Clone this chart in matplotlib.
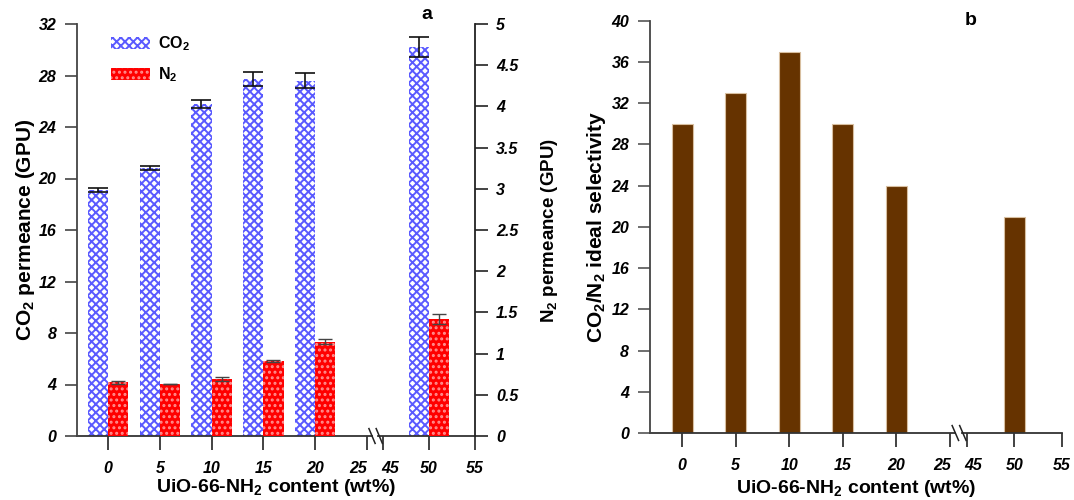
import matplotlib
matplotlib.use("Agg")
import matplotlib.pyplot as plt
import matplotlib.transforms as mtransforms
from matplotlib.patches import Patch
import numpy as np

plt.rcParams['font.family'] = ['Liberation Sans', 'DejaVu Sans']
plt.rcParams['hatch.linewidth'] = 1.4
plt.rcParams['mathtext.fontset'] = 'custom'
plt.rcParams['mathtext.rm'] = 'Liberation Sans:bold'
plt.rcParams['mathtext.it'] = 'Liberation Sans:bold:italic'
plt.rcParams['mathtext.bf'] = 'Liberation Sans:bold'
plt.rcParams['mathtext.default'] = 'rm'

# data
content = [0, 5, 10, 15, 20, 50]
tick_vals = [0, 5, 10, 15, 20, 25, 45, 50, 55]
co2 = [19.1, 20.8, 25.8, 27.7, 27.6, 30.2]
co2_err = [0.15, 0.15, 0.3, 0.55, 0.6, 0.8]
n2 = [0.652, 0.631, 0.692, 0.91, 1.145, 1.42]
n2_err = [0.016, 0.005, 0.02, 0.01, 0.03, 0.06]
selectivity = [30, 33, 37, 30, 24, 21]


def pos(v):
    # broken x axis: 25 -> 45 is squeezed
    v = np.asarray(v, dtype=float)
    return np.where(v <= 25, v, 26.55 + (v - 45) * 0.89)


xp = pos(content)
tp = pos(tick_vals)
w = 1.95
tickfont = dict(fontsize=11.5, fontweight='bold', fontstyle='italic')
ylabfont = dict(fontsize=15, fontweight='bold')
xlabfont = dict(fontsize=14, fontweight='bold')

fig = plt.figure(figsize=(10.74, 5), dpi=100)
ax1 = fig.add_axes([0.0717, 0.128, 0.3706, 0.824])
ax2 = ax1.twinx()
ax3 = fig.add_axes([0.6052, 0.134, 0.3836, 0.8246])


def style_x(ax):
    ax.set_xlim(-3.0, 35.45)
    ax.set_xticks(tp)
    ax.set_xticklabels([str(t) for t in tick_vals], **tickfont)
    ax.tick_params(axis='x', length=10, width=1.2, pad=8, color='#222222')
    # pull the 25 and 45 labels apart around the break
    labels = ax.get_xticklabels()
    labels[5].set_transform(labels[5].get_transform() +
                            mtransforms.ScaledTranslation(-6 / 72, 0, fig.dpi_scale_trans))
    labels[6].set_transform(labels[6].get_transform() +
                            mtransforms.ScaledTranslation(5 / 72, 0, fig.dpi_scale_trans))
    ax.spines['top'].set_visible(False)
    ax.spines['bottom'].set_visible(False)
    # axis line with break marks
    tr = ax.get_xaxis_transform()
    ax.plot([-3.0, 25.5], [0, 0], color='#333333', lw=1.3, transform=tr, clip_on=False)
    ax.plot([26.1, 35.45], [0, 0], color='#333333', lw=1.3, transform=tr, clip_on=False)
    for x0 in (25.2, 25.9):
        ax.plot([x0, x0 + 0.6], [0.018, -0.018], color='#222222', lw=1.1,
                transform=tr, clip_on=False)


# panel a
ax1.bar(xp - w / 2, co2, width=w, facecolor='white', edgecolor='#5a5aff',
        hatch='xxxx', linewidth=0, zorder=2)
ax1.errorbar(xp - w / 2, co2, yerr=co2_err, fmt='none', ecolor='#111111',
             elinewidth=1.2, capsize=7, capthick=1.2, zorder=3)
ax2.bar(xp + w / 2, n2, width=w, facecolor='#ff0000', edgecolor='#ff9090',
        hatch='...', linewidth=0, zorder=2)
ax2.errorbar(xp + w / 2, n2, yerr=n2_err, fmt='none', ecolor='#444444',
             elinewidth=1.0, capsize=5, capthick=1.0, zorder=3)

style_x(ax1)
ax1.set_ylim(0, 32)
ax1.set_yticks(np.arange(0, 33, 4))
ax1.set_yticklabels([str(t) for t in range(0, 33, 4)], **tickfont)
ax1.tick_params(axis='y', length=9, width=1.2, pad=6, color='#444444')
ax1.spines['left'].set_color('#444444')
ax1.spines['left'].set_linewidth(1.3)
ax1.spines['right'].set_visible(False)
ax1.set_ylabel('CO$_2$ permeance (GPU)', **ylabfont)
ax1.yaxis.set_label_coords(-0.1, 0.5)
ax1.set_xlabel('UiO-66-NH$_2$ content (wt%)', **xlabfont)
ax1.xaxis.set_label_coords(0.5, -0.1)
ax1.text(0.879, 1.022, 'a', transform=ax1.transAxes, ha='center', va='center',
         fontsize=14, fontweight='bold')

ax2.set_ylim(0, 5)
ax2.set_yticks(np.arange(0, 5.01, 0.5))
ax2.set_yticklabels(['0', '0.5', '1', '1.5', '2', '2.5', '3', '3.5', '4', '4.5', '5'], **tickfont)
ax2.tick_params(axis='y', length=9, width=1.2, pad=6, color='#222222')
for s in ('top', 'bottom', 'left'):
    ax2.spines[s].set_visible(False)
ax2.spines['right'].set_color('#222222')
ax2.spines['right'].set_linewidth(1.3)
ax2.set_ylabel('N$_2$ permeance (GPU)', fontsize=13.5, fontweight='bold')
ax2.yaxis.set_label_coords(1.16, 0.5)

handles = [Patch(facecolor='white', edgecolor='#5a5aff', hatch='xxxx', linewidth=0, label='CO$_2$'),
           Patch(facecolor='#ff0000', edgecolor='#ff9090', hatch='...', linewidth=0, label='N$_2$')]
ax1.legend(handles=handles, loc='upper left', bbox_to_anchor=(0.05, 1.01), frameon=False,
           prop=dict(size=11.5, weight='bold'), handlelength=2.4, handleheight=0.8,
           labelspacing=0.8, handletextpad=0.5)

# panel b
ax3.bar(xp, selectivity, width=w, facecolor='#663300', edgecolor='#d8bfa0',
        linewidth=0.8, zorder=2)
style_x(ax3)
ax3.set_ylim(0, 40)
ax3.set_yticks(np.arange(0, 41, 4))
ax3.set_yticklabels([str(t) for t in range(0, 41, 4)], **tickfont)
ax3.tick_params(axis='y', length=9, width=1.2, pad=6, color='#555555')
ax3.spines['left'].set_color('#444444')
ax3.spines['left'].set_linewidth(1.3)
ax3.spines['right'].set_visible(False)
ax3.set_ylabel('CO$_2$/N$_2$ ideal selectivity', **ylabfont)
ax3.yaxis.set_label_coords(-0.102, 0.5)
ax3.set_xlabel('UiO-66-NH$_2$ content (wt%)', **xlabfont)
ax3.xaxis.set_label_coords(0.5, -0.108)
ax3.text(0.779, 1.0, 'b', transform=ax3.transAxes, ha='center', va='center',
         fontsize=14, fontweight='bold')

fig.savefig('out.png', dpi=100)
